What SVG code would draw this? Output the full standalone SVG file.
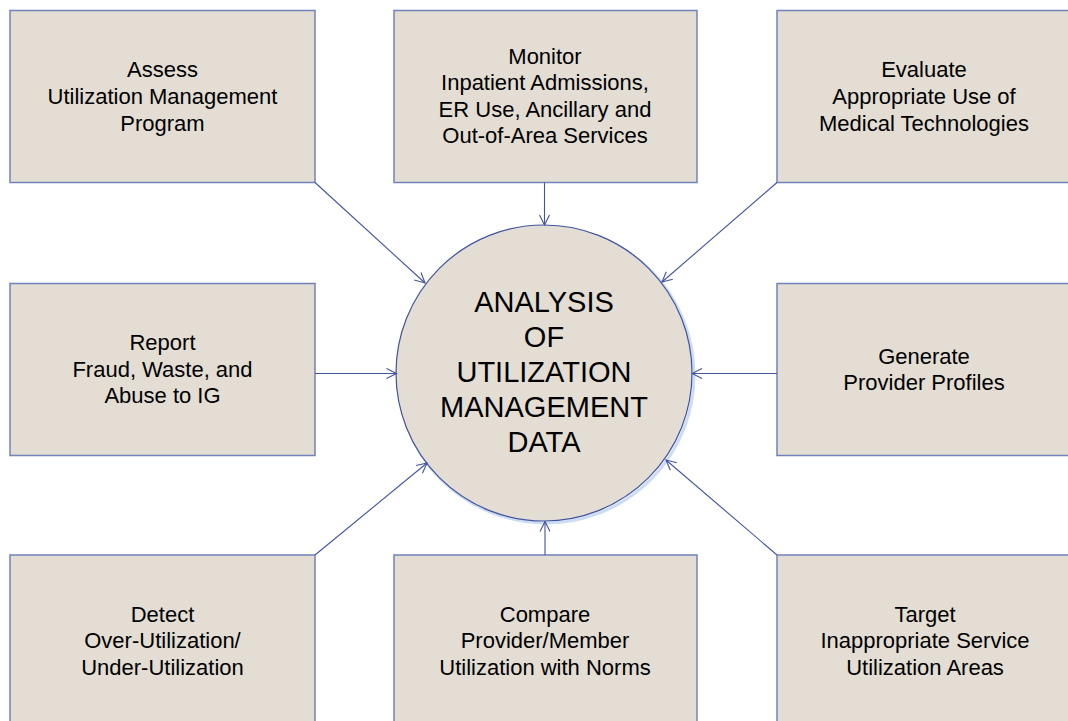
<svg xmlns="http://www.w3.org/2000/svg" width="1068" height="721" viewBox="0 0 1068 721">
<style>
.box{fill:#E3DDD3;stroke:#7282BA;stroke-width:1.5}
.t{font-family:"Liberation Sans",Arial,sans-serif;font-size:22px;fill:#000;text-anchor:middle}
.c{font-family:"Liberation Sans",Arial,sans-serif;font-size:29px;fill:#000;text-anchor:middle}
.conn line{stroke:#4054A0;stroke-width:1.1;fill:none}
</style>
<defs>
<marker id="arr" viewBox="0 0 12 12" refX="11" refY="6" markerWidth="12" markerHeight="12" markerUnits="userSpaceOnUse" orient="auto">
<path d="M1,1 L11,6 L1,11" fill="none" stroke="#4054A0" stroke-width="1.1"/>
</marker>
</defs>
<rect width="1068" height="721" fill="#fff"/>
<g id="center">
<circle cx="546" cy="375" r="148" fill="none" stroke="#CCDCF2" stroke-width="3"/>
<circle cx="544" cy="373" r="148" fill="#E3DDD3" stroke="#4054A0" stroke-width="1.2"/>
<text class="c" x="544" y="311.7">ANALYSIS</text>
<text class="c" x="544" y="346.7">OF</text>
<text class="c" x="544" y="381.7">UTILIZATION</text>
<text class="c" x="544" y="416.7">MANAGEMENT</text>
<text class="c" x="544" y="451.7">DATA</text>
</g>
<g id="assess">
<rect class="box" x="10" y="10.5" width="305" height="172"/>
<text class="t" x="162.5" y="77">Assess</text>
<text class="t" x="162.5" y="104">Utilization Management</text>
<text class="t" x="162.5" y="130.5">Program</text>
</g>
<g id="monitor">
<rect class="box" x="394" y="10.5" width="303" height="172"/>
<text class="t" x="545" y="63.5">Monitor</text>
<text class="t" x="545" y="90">Inpatient Admissions,</text>
<text class="t" x="545" y="116.5">ER Use, Ancillary and</text>
<text class="t" x="545" y="143">Out-of-Area Services</text>
</g>
<g id="evaluate">
<rect class="box" x="777" y="10.5" width="305" height="172"/>
<text class="t" x="924" y="77">Evaluate</text>
<text class="t" x="924" y="104">Appropriate Use of</text>
<text class="t" x="924" y="130.5">Medical Technologies</text>
</g>
<g id="report">
<rect class="box" x="10" y="283.5" width="305" height="172"/>
<text class="t" x="162.5" y="350">Report</text>
<text class="t" x="162.5" y="376.5">Fraud, Waste, and</text>
<text class="t" x="162.5" y="403">Abuse to IG</text>
</g>
<g id="generate">
<rect class="box" x="777" y="283.5" width="305" height="172"/>
<text class="t" x="924" y="363.5">Generate</text>
<text class="t" x="924" y="390">Provider Profiles</text>
</g>
<g id="detect">
<rect class="box" x="10" y="555" width="305" height="172"/>
<text class="t" x="162.5" y="621.7">Detect</text>
<text class="t" x="162.5" y="648.3">Over-Utilization/</text>
<text class="t" x="162.5" y="675">Under-Utilization</text>
</g>
<g id="compare">
<rect class="box" x="394" y="555" width="303" height="172"/>
<text class="t" x="545" y="621.7">Compare</text>
<text class="t" x="545" y="648.3">Provider/Member</text>
<text class="t" x="545" y="675">Utilization with Norms</text>
</g>
<g id="target">
<rect class="box" x="777" y="555" width="305" height="172"/>
<text class="t" x="925" y="621.7">Target</text>
<text class="t" x="925" y="648.3">Inappropriate Service</text>
<text class="t" x="925" y="675">Utilization Areas</text>
</g>
<g id="connectors" class="conn">
<line x1="315" y1="182.5" x2="425" y2="283" marker-end="url(#arr)"/>
<line x1="544.5" y1="182.5" x2="544.5" y2="225" marker-end="url(#arr)"/>
<line x1="777" y1="182.5" x2="662" y2="282" marker-end="url(#arr)"/>
<line x1="315" y1="373.5" x2="396.5" y2="373.5" marker-end="url(#arr)"/>
<line x1="777" y1="373.5" x2="692" y2="373.5" marker-end="url(#arr)"/>
<line x1="315" y1="555" x2="427" y2="463" marker-end="url(#arr)"/>
<line x1="545" y1="555" x2="545" y2="521.5" marker-end="url(#arr)"/>
<line x1="777" y1="555" x2="666" y2="460" marker-end="url(#arr)"/>
</g>
</svg>
